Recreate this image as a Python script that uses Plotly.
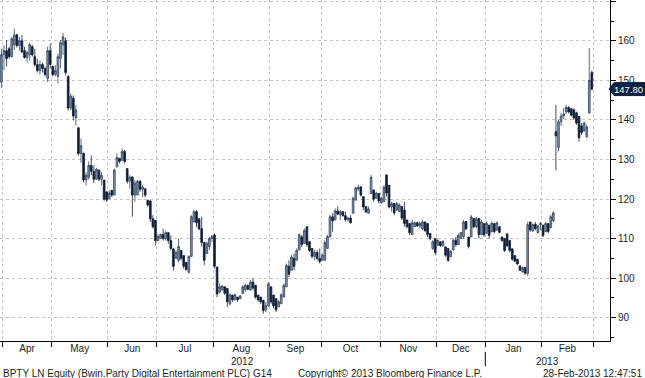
import numpy as np
import pandas as pd
import plotly.graph_objects as go

# ---------------- data ----------------
holidays = ["2012-04-06", "2012-04-09", "2012-05-07", "2012-06-04", "2012-06-05",
            "2012-08-27", "2012-12-25", "2012-12-26", "2013-01-01"]
dates = pd.bdate_range("2012-03-30", "2013-02-28")
dates = dates[~dates.isin(pd.to_datetime(holidays))]

open_ = [
    149.5, 156.5, 157.5, 158.0, 156.0, 159.0, 161.5, 158.8, 160.0, 157.5, 155.8, 156.5, 158.5, 156.0, 154.0, 152.5, 154.0, 153.0, 150.5, 157.5,
    153.5, 151.5, 151.0, 155.5, 159.0, 160.0, 151.0, 143.0, 145.5, 140.5, 138.0, 131.5, 131.5, 124.8, 125.5, 128.5, 127.0, 125.0, 127.3, 125.0, 124.8, 121.8,
    120.1, 122.2, 121.0, 128.1, 130.3, 129.8, 132.0, 127.7, 124.5, 125.6, 121.0, 121.0, 124.5, 122.5, 122.6, 119.7, 119.5, 115.0, 114.6,
    109.5, 110.0, 111.0, 110.0, 111.5, 109.5, 107.4, 105.0, 104.5, 107.0, 105.7, 104.0, 101.5, 105.5, 114.2, 116.8, 115.0, 112.5, 109.0, 106.2, 108.0, 110.0,
    110.9, 102.8, 96.5, 97.0, 97.8, 97.4, 93.5, 95.7, 94.5, 95.2, 94.8, 96.1, 97.0, 98.2, 97.0, 99.0, 98.2, 95.7, 95.2, 94.4, 92.0, 93.0,
    97.8, 95.7, 94.8, 92.7, 93.5, 95.2, 97.8, 103.0, 102.0, 105.0, 104.5, 107.1, 110.4, 108.8, 113.0, 109.2, 107.5, 105.5, 106.5, 105.0,
    104.5, 104.5, 107.5, 110.4, 115.5, 114.7, 117.0, 116.0, 116.8, 115.8, 114.8, 115.2, 116.4, 119.7, 122.5, 123.1, 120.6, 118.1, 116.4, 121.4, 122.3, 120.2, 121.4,
    119.0, 119.3, 126.1, 123.5, 118.0, 118.9, 117.2, 116.8, 118.1, 117.2, 114.7, 113.8, 111.0, 113.0, 114.0, 113.2, 112.5, 114.2, 113.8, 111.3, 107.5, 110.0,
    108.3, 109.2, 108.2, 107.9, 107.5, 105.4, 107.1, 109.6, 108.5, 110.0, 110.5, 114.3, 110.4, 110.4, 115.1, 113.0, 115.1, 111.0, 113.8,
    111.3, 113.4, 111.7, 113.8, 112.1, 113.0, 110.4, 110.0, 111.2, 109.5, 107.4, 105.7, 104.8, 103.1, 101.6, 102.7, 101.2, 114.2, 111.9, 113.6, 111.5, 113.5,
    113.4, 111.7, 113.8, 112.8, 114.5, 137.0, 133.0, 139.5, 141.0, 142.0, 143.2, 142.8, 142.5, 141.8, 140.9, 138.5, 137.2, 135.8, 141.8, 152.0,
]
high = [
    158.0, 158.9, 160.2, 158.5, 161.0, 163.1, 161.8, 161.0, 161.5, 158.5, 157.5, 159.5, 159.0, 158.0, 155.5, 155.0, 154.5, 153.5, 158.5, 159.3,
    153.8, 153.8, 156.8, 160.2, 162.0, 160.8, 151.3, 146.7, 146.2, 143.7, 138.2, 135.3, 131.8, 126.8, 129.5, 131.0, 128.5, 127.9, 127.5, 126.8, 124.8, 122.0,
    122.2, 122.2, 127.7, 131.5, 130.3, 132.8, 132.4, 127.7, 126.0, 125.6, 124.8, 124.8, 124.8, 123.5, 122.6, 119.7, 119.7, 115.9, 114.6,
    111.2, 111.2, 112.5, 112.0, 111.7, 110.8, 107.4, 107.0, 110.0, 107.0, 105.7, 104.0, 105.7, 115.9, 117.2, 117.2, 115.0, 115.5, 109.2, 109.2, 110.4, 110.9,
    111.3, 102.8, 98.6, 98.2, 97.8, 97.4, 96.1, 95.7, 96.1, 95.2, 95.7, 98.2, 98.6, 98.2, 99.5, 99.9, 98.2, 95.7, 95.2, 94.4, 94.0, 99.0,
    97.8, 95.7, 94.8, 94.4, 96.1, 98.6, 103.7, 104.5, 105.8, 106.2, 107.5, 111.3, 110.9, 112.6, 113.0, 109.2, 107.5, 107.1, 107.1, 107.5,
    106.2, 109.6, 110.9, 116.0, 116.4, 117.6, 118.1, 117.2, 116.8, 116.8, 115.5, 115.9, 120.6, 123.1, 123.6, 123.1, 120.6, 118.1, 118.1, 126.1, 122.3, 121.9, 121.4,
    120.6, 123.5, 126.1, 123.5, 119.3, 118.9, 119.3, 118.9, 118.1, 119.3, 114.7, 113.8, 114.7, 114.3, 114.3, 114.3, 114.7, 114.3, 113.8, 111.3, 109.6, 110.0,
    110.0, 109.2, 109.6, 107.9, 107.5, 107.1, 110.0, 110.4, 111.3, 111.7, 114.7, 114.3, 110.4, 116.0, 115.1, 115.5, 115.1, 114.7, 113.8,
    114.3, 113.4, 114.3, 113.8, 114.3, 113.0, 110.4, 110.0, 111.2, 109.5, 107.4, 105.7, 104.8, 103.1, 102.9, 102.7, 114.3, 114.2, 113.8, 114.2, 113.4, 114.2,
    113.4, 114.2, 113.8, 116.0, 116.8, 143.8, 140.0, 141.8, 143.0, 143.8, 143.4, 143.0, 143.0, 142.1, 140.9, 139.2, 139.6, 138.8, 158.2, 152.5,
]
low = [
    148.0, 152.6, 153.5, 155.5, 155.8, 157.6, 158.3, 157.5, 156.8, 155.5, 154.5, 155.0, 156.0, 153.5, 152.0, 151.5, 152.0, 151.0, 149.6, 153.0,
    150.9, 151.0, 149.2, 153.0, 156.4, 151.3, 142.4, 142.4, 139.9, 138.6, 131.0, 129.2, 124.2, 123.4, 124.9, 126.0, 124.0, 124.9, 124.5, 123.5, 119.6, 119.3,
    120.1, 120.5, 121.0, 128.1, 129.0, 129.8, 129.0, 123.9, 122.6, 115.5, 119.3, 121.0, 121.8, 120.5, 120.5, 118.0, 114.2, 112.5, 108.3,
    109.5, 110.0, 109.5, 109.5, 108.7, 107.0, 101.9, 104.9, 104.0, 104.5, 102.4, 101.9, 101.1, 105.3, 114.2, 112.9, 112.1, 108.0, 103.3, 106.2, 107.1, 109.2,
    102.4, 95.2, 96.1, 96.9, 95.7, 92.7, 93.1, 94.0, 94.4, 94.0, 94.8, 96.1, 96.5, 96.9, 96.9, 96.9, 94.8, 94.0, 93.5, 91.0, 91.4, 92.7,
    93.5, 92.3, 91.4, 92.7, 93.5, 95.2, 97.8, 100.3, 102.0, 102.0, 104.5, 107.1, 107.9, 108.8, 107.9, 106.6, 105.0, 104.5, 104.5, 103.7,
    104.5, 104.5, 107.5, 110.4, 111.7, 114.7, 115.9, 114.7, 115.5, 114.3, 114.3, 113.8, 116.4, 119.7, 121.9, 120.6, 117.2, 116.4, 116.4, 121.4, 119.3, 120.2, 118.9,
    118.9, 119.3, 120.6, 117.6, 116.8, 115.9, 117.2, 116.8, 114.7, 113.0, 112.6, 110.9, 110.9, 113.0, 113.0, 112.6, 112.1, 111.7, 110.4, 109.6, 107.1, 105.8,
    108.3, 107.9, 107.9, 105.4, 104.1, 105.4, 107.1, 107.9, 108.3, 110.0, 110.0, 112.1, 107.5, 110.4, 112.6, 112.6, 110.0, 110.9, 110.4,
    111.3, 110.0, 111.7, 111.3, 112.1, 111.3, 109.2, 106.6, 107.8, 106.5, 104.4, 104.0, 103.3, 101.8, 101.4, 100.8, 100.6, 111.7, 111.7, 112.1, 111.3, 112.1,
    110.4, 111.7, 111.3, 112.6, 114.2, 127.3, 132.0, 138.5, 140.2, 141.5, 141.7, 140.9, 140.0, 138.8, 134.5, 136.2, 137.1, 135.4, 141.5, 147.5,
]
close = [
    156.5, 157.5, 155.5, 156.0, 160.5, 161.5, 158.8, 160.0, 157.2, 155.8, 157.0, 159.0, 156.5, 154.0, 152.5, 154.0, 153.0, 151.5, 157.5, 154.0,
    151.5, 152.5, 156.0, 159.5, 161.0, 152.0, 143.0, 146.0, 141.0, 142.5, 131.5, 133.5, 124.8, 126.0, 128.5, 127.0, 125.0, 127.5, 125.0, 126.0, 120.0, 119.8,
    121.5, 121.0, 127.3, 130.5, 129.5, 132.0, 129.5, 124.5, 125.5, 121.0, 124.0, 124.5, 122.5, 123.0, 121.0, 118.5, 115.0, 113.0, 109.5,
    110.5, 111.0, 110.0, 111.5, 109.5, 107.5, 103.0, 106.5, 108.0, 105.0, 103.0, 102.2, 105.5, 115.5, 116.8, 114.0, 112.5, 109.0, 104.5, 108.8, 110.0, 110.5,
    103.0, 96.0, 97.8, 98.0, 96.2, 94.0, 95.8, 94.5, 95.8, 94.5, 95.5, 97.8, 98.2, 97.2, 99.0, 97.5, 95.2, 94.5, 94.0, 91.8, 93.0, 98.5,
    94.0, 93.0, 92.0, 94.0, 95.8, 98.2, 103.2, 101.0, 105.3, 103.0, 107.0, 111.0, 108.5, 112.0, 108.5, 107.0, 105.5, 106.5, 105.0, 104.2,
    105.8, 109.0, 110.5, 115.5, 114.5, 117.0, 116.2, 116.8, 115.8, 114.8, 115.2, 114.0, 120.2, 122.8, 123.0, 121.0, 118.0, 116.8, 117.5, 125.5, 120.0, 121.5, 119.5,
    120.2, 123.0, 121.5, 118.0, 118.8, 116.5, 118.8, 118.5, 115.2, 113.8, 113.0, 111.5, 114.0, 114.0, 113.2, 113.8, 114.2, 112.0, 111.0, 110.0, 109.2, 106.5,
    109.5, 108.2, 109.3, 105.8, 104.5, 106.8, 109.6, 108.5, 110.8, 111.5, 114.2, 112.5, 108.0, 115.5, 113.0, 115.0, 111.0, 114.2, 111.0,
    113.8, 110.8, 113.9, 111.8, 114.0, 111.6, 109.5, 107.0, 108.2, 107.0, 104.8, 104.3, 103.6, 102.0, 102.6, 101.2, 113.5, 112.2, 113.5, 112.5, 113.2, 113.8,
    110.8, 113.8, 111.8, 115.5, 116.5, 136.0, 139.5, 141.0, 141.5, 143.2, 142.0, 141.2, 140.5, 139.2, 135.5, 136.8, 139.2, 138.2, 150.0, 147.8,
]

y_ticks = [90, 100, 110, 120, 130, 140, 150, 160, 170]
last_price = 147.80

title_left = "BPTY LN Equity (Bwin.Party Digital Entertainment PLC) G14"
title_mid = "Copyright\u00a9 2013 Bloomberg Finance L.P."
title_right = "28-Feb-2013 12:47:51"

# ---------------- derived positions ----------------
n = len(dates)
x = np.arange(n)
mon = dates.month.values
starts = [i for i in range(1, n) if mon[i] != mon[i - 1]]
bounds = [s - 0.5 for s in starts] + [n - 0.5]
mids = [(bounds[k] + bounds[k + 1]) / 2 for k in range(len(bounds) - 1)]
labels = [dates[s].strftime("%b") for s in starts]
year_start = [i for i in range(1, n) if dates[i].year != dates[i - 1].year][0] - 0.5

W, H = 645, 378
ML, MR, MT, MB = 0, 35, 0, 37
PW, PH = W - ML - MR, H - MT - MB
XR = [-0.558, 237.07]
YR = [84.1, 170.32]

def py(pix):  # pixel row -> paper y
    return (H - MB - pix) / PH

def px(pix):  # pixel column -> paper x
    return (pix - ML) / PW

FONT = "Liberation Sans, Arial, sans-serif"
TXT = "#1e1e1e"
FS = 10

fig = go.Figure()
fig.add_trace(go.Candlestick(
    x=x, open=open_, high=high, low=low, close=close,
    text=[d.strftime("%d-%b-%Y") for d in dates], hoverinfo="text+y",
    increasing=dict(fillcolor="#8395ad", line=dict(color="#33445c", width=0.8)),
    decreasing=dict(fillcolor="#0e1d35", line=dict(color="#0e1d35", width=0.8)),
    whiskerwidth=0, showlegend=False,
))

gridc = "#c4c4c4"
fig.update_layout(
    width=W, height=H, margin=dict(l=ML, r=MR, t=MT, b=MB),
    paper_bgcolor="white", plot_bgcolor="white",
    font=dict(family=FONT, size=FS, color=TXT),
    showlegend=False, boxgap=0.05,
    xaxis=dict(
        range=XR, rangeslider=dict(visible=False),
        tickmode="array", tickvals=mids, ticktext=labels, ticks="",
        showgrid=False, zeroline=False,
        showline=True, linecolor="#000", linewidth=1,
        tickfont=dict(size=FS, color=TXT), ticklabelstandoff=-2,
        minor=dict(tickmode="array", tickvals=bounds, ticks="outside", ticklen=5,
                   tickcolor="#000", showgrid=True, gridcolor=gridc, griddash="dot",
                   gridwidth=1),
    ),
    yaxis=dict(
        range=YR, side="right",
        tickmode="array", tickvals=y_ticks,
        ticktext=[str(v) if v < 170 else "" for v in y_ticks],
        ticks="outside", ticklen=5, tickcolor="#000",
        showgrid=True, gridcolor=gridc, griddash="dot", gridwidth=1,
        zeroline=False, showline=True, linecolor="#000", linewidth=1,
        tickfont=dict(size=FS, color=TXT),
        minor=dict(dtick=5, tick0=0, ticks="outside", ticklen=3, tickcolor="#000", showgrid=False),
    ),
)

# year labels
fig.add_annotation(x=(XR[0] + year_start) / 2, xref="x", y=py(361), yref="paper",
                   text=str(dates[0].year), showarrow=False, yanchor="middle",
                   font=dict(size=FS, color=TXT))
fig.add_annotation(x=(year_start + XR[1]) / 2, xref="x", y=py(361), yref="paper",
                   text=str(dates[-1].year), showarrow=False, yanchor="middle",
                   font=dict(size=FS, color=TXT))
fig.add_shape(type="line", xref="x", yref="paper", x0=year_start, x1=year_start,
              y0=py(352), y1=py(366), line=dict(color="#000", width=1))

# footer
fig.add_annotation(x=px(1), xref="paper", y=py(373), yref="paper", text=title_left,
                   showarrow=False, xanchor="left", yanchor="middle", font=dict(size=FS, color=TXT))
fig.add_annotation(x=px(484), xref="paper", y=py(373), yref="paper", text=title_mid,
                   showarrow=False, xanchor="right", yanchor="middle", font=dict(size=FS, color=TXT))
fig.add_annotation(x=px(644), xref="paper", y=py(373), yref="paper", text=title_right,
                   showarrow=False, xanchor="right", yanchor="middle", font=dict(size=FS, color=TXT))

# last price tag
ypl = (last_price - YR[0]) / (YR[1] - YR[0])
hh = 6.5 / PH
x0, x1, x2 = px(609), px(614), px(645)
fig.add_shape(type="path", xref="paper", yref="paper",
              path=f"M {x0},{ypl} L {x1},{ypl + hh} L {x2},{ypl + hh} L {x2},{ypl - hh} L {x1},{ypl - hh} Z",
              fillcolor="#0d2240", line=dict(color="#0d2240", width=1), layer="above")
fig.add_annotation(x=px(644.5), xref="paper", y=ypl, yref="paper", text=f"{last_price:.2f}",
                   showarrow=False, xanchor="right", yanchor="middle",
                   font=dict(size=9.5, color="white", family=FONT))

fig.write_html("out.html", config={"displayModeBar": False},
               post_script="document.body.style.margin='0';")
